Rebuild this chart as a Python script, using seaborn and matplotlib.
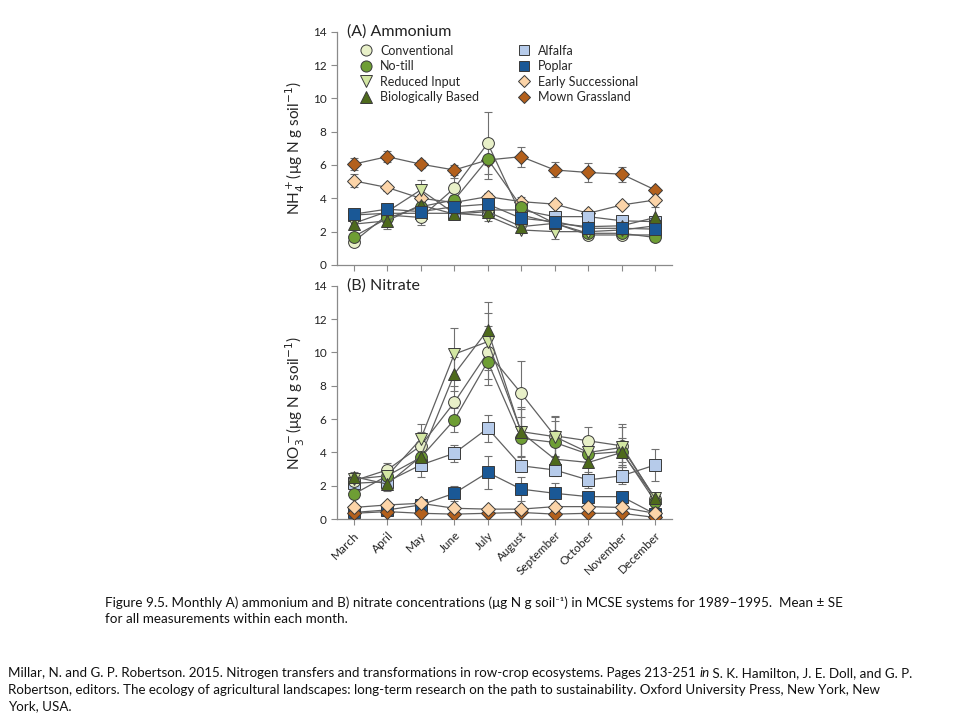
import matplotlib
matplotlib.use("Agg")
import matplotlib.pyplot as plt
from matplotlib.lines import Line2D
import numpy as np
import pandas as pd
import seaborn as sns

sns.set_theme(style="ticks")
plt.rcParams["font.family"] = ["Lato", "DejaVu Sans"]

# ---- data ----
months = ["March", "April", "May", "June", "July", "August",
          "September", "October", "November", "December"]
systems = ["Conventional", "No-till", "Reduced Input", "Biologically Based",
           "Alfalfa", "Poplar", "Early Successional", "Mown Grassland"]

# (A) ammonium, means
nh4_conventional = [1.4, 3.0, 2.85, 4.6, 7.3, 3.0, 2.5, 1.8, 1.8, 1.8]
nh4_notill = [1.7, 2.8, 3.5, 3.9, 6.35, 3.5, 2.5, 1.9, 1.9, 1.65]
nh4_reduced = [2.5, 3.2, 4.5, 3.1, 2.95, 2.1, 2.0, 2.0, 2.1, 2.35]
nh4_biological = [2.45, 2.65, 3.6, 3.05, 3.2, 2.3, 2.5, 2.3, 2.35, 2.85]
nh4_alfalfa = [3.0, 3.1, 3.1, 3.1, 3.3, 3.3, 2.9, 2.9, 2.65, 2.6]
nh4_poplar = [3.05, 3.35, 3.2, 3.5, 3.65, 2.8, 2.6, 2.2, 2.2, 2.15]
nh4_early = [5.05, 4.65, 4.0, 3.75, 4.1, 3.8, 3.65, 3.1, 3.6, 3.9]
nh4_mown = [6.05, 6.5, 6.05, 5.7, 6.3, 6.5, 5.7, 5.55, 5.45, 4.5]

# (A) ammonium, SE
nh4_conventional_se = [0.2, 0.3, 0.45, 0.6, 1.85, 0.4, 0.3, 0.25, 0.2, 0.2]
nh4_notill_se = [0.2, 0.3, 0.3, 0.3, 1.2, 0.4, 0.3, 0.2, 0.2, 0.2]
nh4_reduced_se = [0.2, 0.3, 0.6, 0.2, 0.3, 0.2, 0.45, 0.3, 0.3, 0.3]
nh4_biological_se = [0.2, 0.5, 0.3, 0.2, 0.3, 0.3, 0.3, 0.3, 0.3, 0.6]
nh4_alfalfa_se = [0.2, 0.2, 0.2, 0.2, 0.2, 0.2, 0.2, 0.3, 0.3, 0.3]
nh4_poplar_se = [0.3, 0.2, 0.2, 0.3, 0.3, 0.3, 0.2, 0.2, 0.2, 0.2]
nh4_early_se = [0.4, 0.2, 0.2, 0.2, 0.2, 0.3, 0.2, 0.2, 0.2, 0.2]
nh4_mown_se = [0.35, 0.35, 0.25, 0.3, 0.3, 0.6, 0.45, 0.55, 0.45, 0.2]

# (B) nitrate, means
no3_conventional = [2.3, 2.95, 4.4, 7.0, 10.0, 7.55, 5.0, 4.7, 4.4, 1.2]
no3_notill = [1.5, 2.6, 3.7, 5.95, 9.45, 4.85, 4.6, 3.9, 4.05, 1.05]
no3_reduced = [2.4, 2.6, 4.8, 9.9, 10.65, 5.25, 4.95, 4.0, 4.3, 1.25]
no3_biological = [2.55, 2.1, 3.75, 8.7, 11.35, 5.2, 3.6, 3.4, 4.0, 1.25]
no3_alfalfa = [2.15, 2.25, 3.25, 3.95, 5.45, 3.2, 2.95, 2.35, 2.6, 3.25]
no3_poplar = [0.4, 0.55, 0.85, 1.55, 2.8, 1.8, 1.55, 1.35, 1.35, 0.3]
no3_early = [0.7, 0.85, 0.95, 0.65, 0.6, 0.6, 0.75, 0.75, 0.7, 0.35]
no3_mown = [0.35, 0.45, 0.35, 0.3, 0.35, 0.4, 0.3, 0.35, 0.35, 0.1]

# (B) nitrate, SE
no3_conventional_se = [0.3, 0.4, 0.8, 1.0, 1.6, 1.95, 1.2, 0.8, 1.3, 0.3]
no3_notill_se = [0.2, 0.3, 0.6, 0.7, 1.4, 1.3, 1.3, 0.7, 0.8, 0.3]
no3_reduced_se = [0.3, 0.4, 0.9, 1.55, 1.7, 1.5, 1.2, 0.8, 1.2, 0.3]
no3_biological_se = [0.3, 0.4, 0.7, 1.0, 1.7, 1.4, 1.0, 0.8, 0.6, 0.3]
no3_alfalfa_se = [0.3, 0.4, 0.7, 0.5, 0.8, 0.3, 0.3, 0.5, 0.5, 0.95]
no3_poplar_se = [0.1, 0.1, 0.2, 0.45, 1.0, 0.7, 0.6, 0.3, 0.3, 0.1]
no3_early_se = [0.1, 0.1, 0.2, 0.1, 0.1, 0.1, 0.1, 0.1, 0.1, 0.1]
no3_mown_se = [0.05, 0.05, 0.05, 0.05, 0.05, 0.05, 0.05, 0.05, 0.05, 0.05]

nh4 = [nh4_conventional, nh4_notill, nh4_reduced, nh4_biological,
       nh4_alfalfa, nh4_poplar, nh4_early, nh4_mown]
nh4_se = [nh4_conventional_se, nh4_notill_se, nh4_reduced_se, nh4_biological_se,
          nh4_alfalfa_se, nh4_poplar_se, nh4_early_se, nh4_mown_se]
no3 = [no3_conventional, no3_notill, no3_reduced, no3_biological,
       no3_alfalfa, no3_poplar, no3_early, no3_mown]
no3_se = [no3_conventional_se, no3_notill_se, no3_reduced_se, no3_biological_se,
          no3_alfalfa_se, no3_poplar_se, no3_early_se, no3_mown_se]

# ---- styles ----
face_colors = {
    "Conventional": "#e8f0c8",
    "No-till": "#6e9e34",
    "Reduced Input": "#d2e6a2",
    "Biologically Based": "#4e6a1c",
    "Alfalfa": "#b6cbea",
    "Poplar": "#1a5896",
    "Early Successional": "#fcd4a8",
    "Mown Grassland": "#b3601c",
}
markers = {
    "Conventional": "o",
    "No-till": "o",
    "Reduced Input": "v",
    "Biologically Based": "^",
    "Alfalfa": "s",
    "Poplar": "s",
    "Early Successional": "D",
    "Mown Grassland": "D",
}
# drawing order (bottom to top) for each panel
order_a = ["Mown Grassland", "Early Successional", "Alfalfa", "Conventional",
           "No-till", "Reduced Input", "Biologically Based", "Poplar"]
order_b = ["Poplar", "Mown Grassland", "Alfalfa", "Conventional",
           "No-till", "Reduced Input", "Biologically Based",
           "Early Successional"]
msize = {"o": 8.5, "v": 9, "^": 9, "s": 8, "D": 7}
edge = "#3a3a3a"
line_color = "#606060"
axis_color = "#8a8a8a"


def long_table(values, errors):
    rows = []
    for name, vals, errs in zip(systems, values, errors):
        for i, (v, e) in enumerate(zip(vals, errs)):
            rows.append({"system": name, "month": i, "value": v, "se": e})
    return pd.DataFrame(rows)


def draw_panel(ax, df, order):
    # error bars first so markers sit on top
    for name in systems:
        d = df[df["system"] == name]
        ax.errorbar(d["month"], d["value"], yerr=d["se"], fmt="none",
                    ecolor="#707070", elinewidth=0.8, capsize=3,
                    capthick=0.8, zorder=1)
    for k, name in enumerate(order):
        d = df[df["system"] == name]
        m = markers[name]
        sns.lineplot(data=d, x="month", y="value", ax=ax, color=line_color,
                     linewidth=0.9, marker=m, markersize=msize[m],
                     markerfacecolor=face_colors[name], markeredgecolor=edge,
                     markeredgewidth=0.7, zorder=2 + k, legend=False)
    ax.set_xlim(-0.5, 9.5)
    ax.set_ylim(0, 14)
    ax.set_yticks(range(0, 15, 2))
    ax.set_xticks(range(len(months)))
    ax.set_xlabel("")
    sns.despine(ax=ax)
    for s in ("left", "bottom"):
        ax.spines[s].set_color(axis_color)
        ax.spines[s].set_linewidth(0.9)
    ax.tick_params(axis="both", colors=axis_color, labelcolor="#222222",
                   labelsize=8.5, length=4, width=0.8)


fig = plt.figure(figsize=(9.6, 7.2), dpi=100)
ax_a = fig.add_axes([0.351, 0.632, 0.349, 0.324])
ax_b = fig.add_axes([0.351, 0.279, 0.349, 0.324])

draw_panel(ax_a, long_table(nh4, nh4_se), order_a)
draw_panel(ax_b, long_table(no3, no3_se), order_b)

ax_a.set_xticklabels([])
ax_b.set_xticklabels(months, rotation=45, ha="right", rotation_mode="anchor")

ax_a.set_ylabel("NH$_4^+$(μg N g soil$^{-1}$)", fontsize=11, labelpad=4)
ax_b.set_ylabel("NO$_3^-$(μg N g soil$^{-1}$)", fontsize=11, labelpad=4)

ax_a.text(0.03, 1.0, "(A) Ammonium", transform=ax_a.transAxes,
          fontsize=11.5, va="center", ha="left", color="#222222")
ax_b.text(0.03, 1.0, "(B) Nitrate", transform=ax_b.transAxes,
          fontsize=11.5, va="center", ha="left", color="#222222")

handles = []
for name in systems:
    m = markers[name]
    handles.append(Line2D([], [], linestyle="none", marker=m,
                          markersize=msize[m] - 0.5,
                          markerfacecolor=face_colors[name],
                          markeredgecolor=edge, markeredgewidth=0.7,
                          label=name))
ax_a.legend(handles=handles, ncol=2, loc="upper left",
            bbox_to_anchor=(0.05, 0.965), frameon=False, fontsize=9,
            handletextpad=0.5, columnspacing=3.0, labelspacing=0.28,
            handlelength=1.2, borderaxespad=0)

# ---- caption and citation ----
fig.text(105 / 960, 1 - 603 / 720,
         "Figure 9.5. Monthly A) ammonium and B) nitrate concentrations "
         "(μg N g soil⁻¹) in MCSE systems for 1989–1995.  Mean ± SE",
         fontsize=9.7, va="center", ha="left", color="#111111")
fig.text(105 / 960, 1 - 619 / 720,
         "for all measurements within each month.",
         fontsize=9.7, va="center", ha="left", color="#111111")

cite_1a = ("Millar, N. and G. P. Robertson. 2015. Nitrogen transfers and "
           "transformations in row-crop ecosystems. Pages 213-251 ")
cite_1b = "in"
cite_1c = " S. K. Hamilton, J. E. Doll, and G. P."
cite_2 = ("Robertson, editors. The ecology of agricultural landscapes: "
          "long-term research on the path to sustainability. Oxford "
          "University Press, New York, New")
cite_3 = "York, USA."

renderer = fig.canvas.get_renderer()
y1 = 1 - 673 / 720
t = fig.text(8 / 960, y1, cite_1a, fontsize=9.6, va="center", ha="left",
             color="#111111")
x_next = t.get_window_extent(renderer).x1 / fig.bbox.width
t = fig.text(x_next, y1, cite_1b, fontsize=9.6, va="center", ha="left",
             style="italic", color="#111111")
x_next = t.get_window_extent(renderer).x1 / fig.bbox.width
fig.text(x_next, y1, cite_1c, fontsize=9.6, va="center", ha="left",
         color="#111111")
fig.text(8 / 960, 1 - 690 / 720, cite_2, fontsize=9.6, va="center",
         ha="left", color="#111111")
fig.text(8 / 960, 1 - 706 / 720, cite_3, fontsize=9.6, va="center",
         ha="left", color="#111111")

fig.savefig("out.png", dpi=100)
